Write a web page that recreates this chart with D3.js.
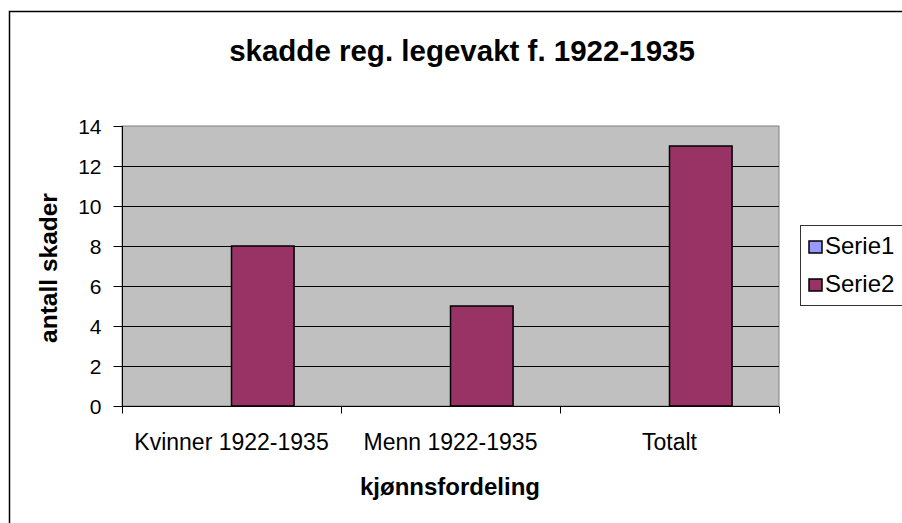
<!DOCTYPE html>
<html>
<head>
<meta charset="utf-8">
<script src="https://cdn.jsdelivr.net/npm/d3@7"></script>
<style>
  body { margin: 0; background: #fff; }
  text { font-family: "Liberation Sans", Arial, sans-serif; fill: #000; }
</style>
</head>
<body>
<div id="chart"></div>
<script>
var categories = ["Kvinner 1922-1935", "Menn 1922-1935", "Totalt"];
var seriesNames = ["Serie1", "Serie2"];
var serie1 = [0, 0, 0];
var serie2 = [8, 5, 13];
var yTicks = [0, 2, 4, 6, 8, 10, 12, 14];
var colors = { Serie1: "#9999FF", Serie2: "#993366" };

var width = 902, height = 523;
var svg = d3.select("#chart").append("svg")
    .attr("width", width).attr("height", height);

// outer chart border (only left/top visible in the frame)
svg.append("rect")
    .attr("x", 9.5).attr("y", 11.5)
    .attr("width", 1000).attr("height", 1000)
    .attr("fill", "none").attr("stroke", "#000").attr("stroke-width", 1.5);

var plot = { left: 122, right: 779, top: 126, bottom: 406 };

var x0 = d3.scaleBand().domain(categories).range([plot.left, plot.right]);
var x1 = d3.scaleBand().domain(seriesNames).range([0, x0.bandwidth()])
    .paddingInner(0).paddingOuter(0.75);
var y = d3.scaleLinear().domain([0, 14]).range([plot.bottom, plot.top]);

var table = categories.map(function(c, i) {
  return { cat: c, values: [ { s: "Serie1", v: serie1[i] }, { s: "Serie2", v: serie2[i] } ] };
});

// plot background
svg.append("rect")
    .attr("x", plot.left).attr("y", plot.top)
    .attr("width", plot.right - plot.left).attr("height", plot.bottom - plot.top)
    .attr("fill", "#C0C0C0").attr("stroke", "#808080").attr("stroke-width", 1);

// gridlines
svg.append("g").selectAll("line").data(yTicks.filter(function(t) { return t > 0 && t < 14; }))
  .enter().append("line")
    .attr("x1", plot.left).attr("x2", plot.right)
    .attr("y1", function(d) { return Math.round(y(d)) + 0.5; })
    .attr("y2", function(d) { return Math.round(y(d)) + 0.5; })
    .attr("stroke", "#000").attr("stroke-width", 1);

// bars
var groups = svg.append("g").selectAll("g").data(table).enter().append("g")
    .attr("transform", function(d) { return "translate(" + x0(d.cat) + ",0)"; });
groups.selectAll("rect").data(function(d) { return d.values.filter(function(v) { return v.v > 0; }); })
  .enter().append("rect")
    .attr("x", function(d) { return x1(d.s); })
    .attr("y", function(d) { return y(d.v); })
    .attr("width", x1.bandwidth())
    .attr("height", function(d) { return y(0) - y(d.v); })
    .attr("fill", function(d) { return colors[d.s]; })
    .attr("stroke", "#000").attr("stroke-width", 1.5);

// y axis
var yAxis = svg.append("g")
    .attr("transform", "translate(" + (plot.left + 0.5) + ",0)")
    .call(d3.axisLeft(y).tickValues(yTicks).tickSize(9).tickPadding(12));
yAxis.selectAll("path, line").attr("stroke", "#000");
yAxis.select(".domain").attr("d", "M0," + plot.top + "V" + plot.bottom);
yAxis.selectAll("text").attr("font-size", 21).attr("font-family", "Liberation Sans, Arial, sans-serif")
    .attr("dy", "0.36em");

// x axis (ticks at category boundaries)
var xAxis = svg.append("g").attr("transform", "translate(0," + (plot.bottom + 0.5) + ")");
xAxis.append("line").attr("x1", plot.left).attr("x2", plot.right).attr("stroke", "#000");
var bounds = categories.map(function(c) { return x0(c); }).concat([plot.right]);
xAxis.selectAll(".tk").data(bounds).enter().append("line")
    .attr("x1", function(d) { return Math.round(d) + 0.5; })
    .attr("x2", function(d) { return Math.round(d) + 0.5; })
    .attr("y1", 0).attr("y2", 7).attr("stroke", "#000");
xAxis.selectAll(".lbl").data(categories).enter().append("text")
    .attr("x", function(d) { return x0(d) + x0.bandwidth() / 2; })
    .attr("y", 43)
    .attr("text-anchor", "middle").attr("font-size", 23)
    .text(function(d) { return d; });

// titles
svg.append("text")
    .attr("x", 462).attr("y", 61)
    .attr("text-anchor", "middle").attr("font-size", 29.5).attr("font-weight", "bold")
    .text("skadde reg. legevakt f. 1922-1935");
svg.append("text")
    .attr("x", 450).attr("y", 495)
    .attr("text-anchor", "middle").attr("font-size", 24).attr("font-weight", "bold")
    .text("kjønnsfordeling");
svg.append("text")
    .attr("transform", "translate(57,268) rotate(-90)")
    .attr("text-anchor", "middle").attr("font-size", 24.5).attr("font-weight", "bold")
    .text("antall skader");

// legend
var legend = svg.append("g").attr("transform", "translate(800,225)");
legend.append("rect").attr("x", 0.5).attr("y", 0.5).attr("width", 130).attr("height", 80)
    .attr("fill", "#fff").attr("stroke", "#333");
var li = legend.selectAll(".li").data(seriesNames).enter().append("g")
    .attr("transform", function(d, i) { return "translate(9," + (16 + i * 38) + ")"; });
li.append("rect").attr("width", 13).attr("height", 12)
    .attr("fill", function(d) { return colors[d]; }).attr("stroke", "#000").attr("stroke-width", 1.5);
li.append("text").attr("x", 16).attr("y", 12.5)
    .attr("font-size", 24).text(function(d) { return d; });
</script>
</body>
</html>
